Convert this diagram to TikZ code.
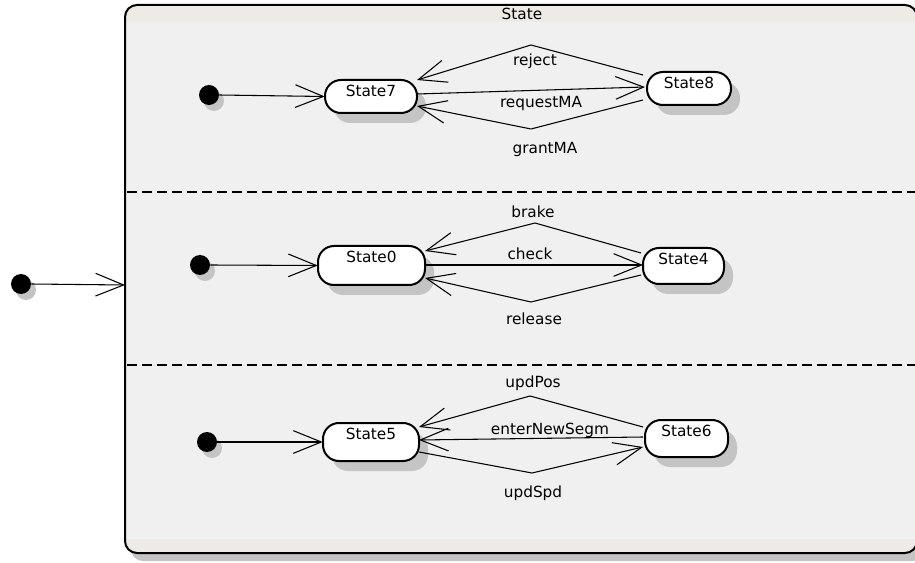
\documentclass[tikz,border=0pt]{standalone}
\usepackage{fontspec}
\setmainfont{DejaVu Sans}
\usetikzlibrary{arrows.meta,shapes.misc}
\definecolor{boxfill}{HTML}{F0F0F0}
\definecolor{stripfill}{HTML}{EEEBE6}
\definecolor{shadowc}{HTML}{C4C4C4}
\tikzset{
  umlarrow/.style={draw, line width=0.8pt, -{Straight Barb[length=21pt,width=17pt,line width=0.8pt]}},
  lbl/.style={font=\fontsize{11.5pt}{13pt}\selectfont, inner sep=0pt},
  initdot/.style={circle, fill=black, minimum size=15pt, inner sep=0pt},
  dotshadow/.style={circle, fill=shadowc, minimum size=15pt, inner sep=0pt},
}
\newcommand{\statebox}[6]{% name, x1, y1, x2, y2, text
  \fill[shadowc, rounded corners=12pt] (#2+9,#3+10) rectangle (#4+9,#5+10);
  \draw[line width=1.5pt, fill=white, rounded corners=12pt] (#2,#3) rectangle (#4,#5);
  \node[inner sep=0pt, minimum width={(#4-#2)*0.75pt}, minimum height={(#5-#3)*0.75pt}] (#1) at ({(#2+#4)/2},{(#3+#5)/2}) {};
  \node[lbl, anchor=center] at ({(#2+#4)/2},{#3+11}) {#6};
}
\begin{document}
\begin{tikzpicture}[x=0.75pt,y=-0.75pt]
\useasboundingbox (0,0) rectangle (915,563);
\clip (0,0) rectangle (915,563);
\fill[white] (0,0) rectangle (915,563);
% outer box shadow
\fill[shadowc, rounded corners=9pt] (131,12) rectangle (925,561);
% outer box
\begin{scope}
\clip[rounded corners=9pt] (125,5) rectangle (917,553);
\fill[boxfill] (125,5) rectangle (917,553);
\fill[stripfill] (125,5) rectangle (917,22);
\fill[stripfill] (125,539) rectangle (917,553);
\end{scope}
\draw[line width=1.5pt, rounded corners=9pt] (125,5) rectangle (917,553);
\node[inner sep=0pt, minimum width=594pt, minimum height=411pt, anchor=north west] (outer) at (125,5) {};
\node[lbl] (title) at (522,14) {State};
% dashed separators
\coordinate (d1a) at (127,192); \coordinate (d1b) at (917,192);
\coordinate (d2a) at (127,365); \coordinate (d2b) at (917,365);
\draw[line width=0.8pt, dash pattern=on 7.5pt off 3.75pt] (d1a) -- (d1b);
\draw[line width=0.8pt, dash pattern=on 7.5pt off 3.75pt] (d2a) -- (d2b);

% outer initial
\node[dotshadow] at (26,290) {};
\node[initdot] (init) at (21,284) {};
\coordinate (outerin) at (125,285);
\draw[umlarrow] (init.east) -- (outerin);

% ----- region 1
\node[dotshadow] at (214,101) {};
\node[initdot] (i1) at (209,95) {};
\statebox{s7}{325}{80}{417}{113}{State7}
\statebox{s8}{647}{72}{731}{105}{State8}
\draw[umlarrow] (i1.east) -- (s7.west);
\coordinate (r1) at (531,45);
\coordinate (g1) at (531,129);
\draw[umlarrow] (643,75) -- (r1) -- (417,80);
\draw[umlarrow] (417,94) -- (645,87);
\draw[umlarrow] (643,100) -- (g1) -- (417,106);
\node[lbl] at (535,61) {reject};
\node[lbl] at (541,104) {requestMA};
\node[lbl] at (545,150) {grantMA};

% ----- region 2
\node[dotshadow] at (205,271) {};
\node[initdot] (i2) at (200,265) {};
\statebox{s0}{318}{246}{425}{285}{State0}
\statebox{s4}{643}{248}{724}{284}{State4}
\draw[umlarrow] (i2.east) -- (s0.west);
\coordinate (b2) at (535,223);
\coordinate (rl2) at (531,302);
\draw[umlarrow] (641,253) -- (b2) -- (425,251);
\draw[umlarrow] (425,265) -- (643,265);
\draw[umlarrow] (641,275) -- (rl2) -- (425,278);
\node[lbl] at (533,212) {brake};
\node[lbl] at (530,254) {check};
\node[lbl] at (534,319) {release};

% ----- region 3
\node[dotshadow] at (212,448) {};
\node[initdot] (i3) at (207,442) {};
\statebox{s5}{323}{423}{419}{461}{State5}
\statebox{s6}{645}{420}{728}{457}{State6}
\draw[umlarrow] (i3.east) -- (s5.west);
\coordinate (p3) at (530,396);
\coordinate (sp3) at (532,473);
\draw[umlarrow] (643,427) -- (p3) -- (419,427);
\draw[umlarrow] (643,437) -- (419,440);
\draw[umlarrow] (419,452) -- (sp3) -- (643,447);
\node[lbl] at (533,383) {updPos};
\node[lbl] at (550,430) {enterNewSegm};
\node[lbl] at (533,493) {updSpd};
\end{tikzpicture}
\end{document}
